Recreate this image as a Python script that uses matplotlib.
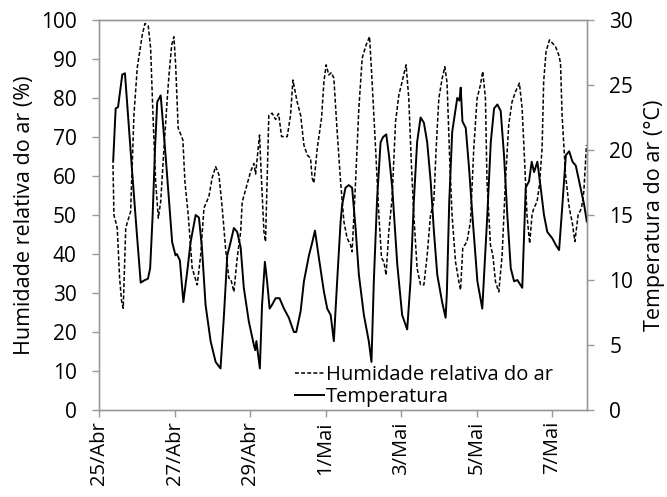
import matplotlib
matplotlib.use("Agg")
import matplotlib.pyplot as plt
from matplotlib.lines import Line2D

plt.rcParams['font.family'] = ['Open Sans', 'DejaVu Sans']

# hours since 25/Abr 00:00
temp_h = [9.0, 10.6, 12.1, 14.8, 16.5, 20.9, 24.1, 26.5, 29.2, 31.1, 32.5, 34.1, 35.6, 37.0, 39.2,
          42.3, 46.5, 48.6, 49.5, 51.4, 53.6, 56.0, 58.2, 61.4, 63.5, 65.4, 67.7, 70.9, 74.1, 77.2,
          79.4, 81.5, 83.6, 85.7, 87.8, 90.0, 92.0, 95.2, 98.4, 99.3, 100.0, 102.2, 103.6, 105.4,
          106.8, 108.4, 110.0, 112.2, 114.7, 117.5, 120.6, 123.8, 125.3, 128.1, 130.2, 133.4, 135.5,
          137.2, 139.7, 142.9, 145.0, 147.2, 149.2, 151.3, 153.5, 154.5, 156.6, 158.7, 160.8, 163.0,
          165.1, 168.3, 171.4, 173.1, 174.6, 176.7, 178.9, 180.5, 182.5, 184.2, 186.3, 189.5, 192.6,
          195.8, 197.9, 200.0, 202.1, 204.3, 206.4, 208.5, 210.7, 212.8, 214.9, 218.0, 220.2, 221.0,
          222.5, 224.4, 227.6, 229.0, 229.8, 230.9, 233.0, 235.1, 237.2, 240.4, 243.5, 246.7, 248.9,
          251.0, 253.1, 255.2, 257.3, 259.4, 261.6, 263.7, 265.8, 267.9, 268.9, 271.1, 273.2, 274.9,
          276.4, 278.5, 280.6, 282.7, 284.8, 288.0, 290.2, 292.3, 294.4, 296.6, 298.7, 300.8, 302.9,
          305.0, 308.2, 309.9]
temp_v = [19.1, 23.2, 23.3, 25.8, 25.9, 18.6, 13.5, 9.8, 10.0, 10.1, 10.9, 15.0, 20.1, 23.7, 24.2,
          19.6, 12.9, 11.9, 12.0, 11.5, 8.3, 10.6, 12.9, 15.0, 14.8, 12.5, 8.1, 5.3, 3.7, 3.2,
          7.3, 11.9, 12.9, 14.0, 13.7, 12.5, 9.4, 6.8, 5.0, 4.6, 5.3, 3.2, 8.1, 11.4,
          9.9, 7.8, 8.1, 8.6, 8.6, 7.8, 7.1, 6.0, 6.0, 7.6, 9.9, 11.9, 12.9,
          13.8, 11.7, 9.1, 7.8, 7.3, 5.3, 9.9, 14.5, 15.8, 17.1, 17.3, 17.1, 14.0,
          10.4, 7.3, 5.3, 3.7, 9.9, 16.3, 20.6, 21.0, 21.2, 19.6, 17.1, 11.2, 7.3,
          6.2, 9.9, 16.0, 20.6, 22.5, 22.1, 20.6, 17.6, 13.7, 10.4, 8.3, 7.1, 9.0,
          16.0, 21.4, 24.0, 23.8, 24.8, 22.2, 21.7, 18.6, 15.0, 9.9, 7.8, 15.0, 20.6,
          23.2, 23.5, 23.0, 19.6, 15.0, 10.9, 9.9, 10.0, 9.6, 9.4, 17.1, 17.6, 19.1,
          18.3, 19.1, 17.1, 15.0, 13.7, 13.2, 12.7, 12.3, 15.8, 19.6, 19.9, 19.1, 18.8,
          17.6, 15.8, 14.5]

rh_h = [8.9, 9.5, 11.6, 13.1, 14.4, 15.4, 17.0, 20.1, 22.2, 24.3, 27.5, 29.2, 31.3, 32.8, 34.3,
        36.0, 37.7, 39.2, 41.3, 43.4, 44.5, 46.2, 47.6, 48.7, 50.3, 52.5, 53.3, 54.6, 56.7, 59.2,
        62.4, 64.6, 66.7, 69.8, 71.9, 74.1, 76.2, 78.3, 80.4, 82.5, 83.8, 85.7, 87.8, 90.0, 91.0,
        93.1, 96.3, 98.4, 99.5, 100.5, 102.0, 103.3, 104.8, 105.8, 107.9, 110.0, 112.2, 114.1,
        116.0, 119.6, 121.7, 123.2, 125.9, 128.1, 130.2, 132.3, 134.4, 135.4, 136.5, 138.7, 141.4,
        142.9, 144.3, 146.0, 147.6, 149.2, 151.3, 153.5, 155.6, 157.6, 159.8, 160.8, 163.0, 165.1,
        167.2, 169.7, 171.9, 173.5, 175.7, 177.8, 179.5, 181.0, 182.4, 184.1, 186.2, 188.4, 190.5,
        192.6, 195.1, 196.8, 198.5, 200.0, 202.1, 204.3, 206.4, 208.5, 210.6, 212.7, 214.2, 215.9,
        218.0, 219.7, 221.1, 222.2, 223.0, 224.3, 226.5, 228.6, 229.7, 231.1, 233.8, 236.0, 238.1,
        240.2, 242.3, 243.8, 245.5, 246.5, 248.7, 250.2, 251.9, 254.0, 256.1, 258.2, 260.3, 262.4,
        264.6, 267.1, 268.8, 270.5, 271.9, 273.6, 275.1, 276.2, 278.3, 279.8, 281.5, 282.5, 284.0,
        286.2, 287.8, 290.0, 292.1, 293.2, 294.2, 296.4, 298.5, 299.6, 300.6, 302.3, 304.4, 306.5,
        308.0, 309.7]
rh_v = [62.8, 50.0, 46.7, 33.8, 27.8, 26.1, 46.7, 50.9, 75.6, 87.7, 96.2, 99.1, 98.5, 92.8, 75.6,
        58.5, 49.2, 53.4, 67.2, 80.0, 86.0, 93.6, 95.7, 88.5, 72.3, 70.1, 69.2, 58.5, 50.0, 36.4,
        32.1, 39.7, 51.8, 54.7, 59.5, 62.4, 60.3, 51.8, 41.5, 33.8, 33.5, 30.3, 39.0, 45.7, 53.4,
        56.4, 61.1, 63.2, 60.5, 64.5, 70.5, 58.5, 45.7, 43.2, 75.6, 76.1, 74.5, 76.0,
        70.1, 70.1, 75.6, 84.6, 79.0, 75.6, 67.9, 65.4, 64.5, 59.5, 58.2, 67.2, 74.9,
        84.2, 88.5, 85.9, 86.5, 85.1, 71.4, 58.5, 48.3, 44.1, 42.3, 40.6, 58.5, 77.4,
        90.2, 93.6, 95.7, 84.2, 67.2, 50.0, 39.0, 38.0, 34.6, 45.7, 54.3, 73.9, 80.8,
        84.2, 88.5, 79.9, 62.8, 50.0, 36.3, 32.1, 32.1, 39.7, 50.0, 53.4, 67.1, 79.9,
        85.0, 88.0, 84.0, 71.4, 62.0, 50.0, 38.0, 32.9, 30.8, 41.5, 43.2, 48.3, 67.1,
        79.9, 83.3, 86.8, 79.9, 58.5, 42.3, 39.7, 32.9, 30.3, 39.7, 58.5, 73.1, 79.0,
        81.6, 83.8, 77.4, 62.8, 50.0, 42.7, 50.0, 51.7, 53.4, 57.7, 67.1, 84.2, 91.9,
        94.9, 94.2, 93.2, 91.0, 89.0, 75.6, 60.3, 52.6, 50.0, 48.3, 43.2, 50.0, 51.7,
        56.0, 67.9]

tick_hours = [0, 48, 96, 144, 192, 240, 288]
tick_labels = ['25/Abr', '27/Abr', '29/Abr', '1/Mai', '3/Mai', '5/Mai', '7/Mai']

fig = plt.figure(figsize=(6.67, 4.97), dpi=100)
ax = fig.add_axes([0.1484, 0.175, 0.7316, 0.7848])
ax2 = ax.twinx()

spine_c = '#999999'
dash = (0, (2.6, 1.4))
ax.plot(rh_h, rh_v, color='black', lw=1.1, linestyle=dash)
ax2.plot(temp_h, temp_v, color='black', lw=1.4)

ax.set_xlim(0, 310)
ax.set_ylim(0, 100)
ax2.set_ylim(0, 30)
ax.set_yticks(range(0, 101, 10))
ax2.set_yticks(range(0, 31, 5))
ax.set_xticks(tick_hours)
ax.set_xticklabels(tick_labels, rotation=90)

for a in (ax, ax2):
    for s in a.spines.values():
        s.set_color(spine_c)
        s.set_linewidth(1.0)
    a.tick_params(axis='both', colors=spine_c, labelcolor='black', labelsize=15,
                  length=5, width=1.0, direction='out')

ax.tick_params(axis='y', pad=11)
ax2.tick_params(axis='y', pad=11)
ax.tick_params(axis='x', pad=3, labelsize=14.5)

ax.set_ylabel('Humidade relativa do ar (%)', fontsize=15.5, labelpad=4)
ax2.set_ylabel('Temperatura do ar (°C)', fontsize=15.5, labelpad=8)

handles = [Line2D([], [], color='black', lw=1.1, linestyle=dash),
           Line2D([], [], color='black', lw=1.4)]
leg = ax2.legend(handles, ['Humidade relativa do ar', 'Temperatura'], loc='lower left',
                 bbox_to_anchor=(0.393, -0.003), frameon=False, fontsize=14.5,
                 handlelength=1.45, handletextpad=0.1, labelspacing=0.12, borderpad=0.2,
                 borderaxespad=0)

fig.savefig('out.png', dpi=100)
